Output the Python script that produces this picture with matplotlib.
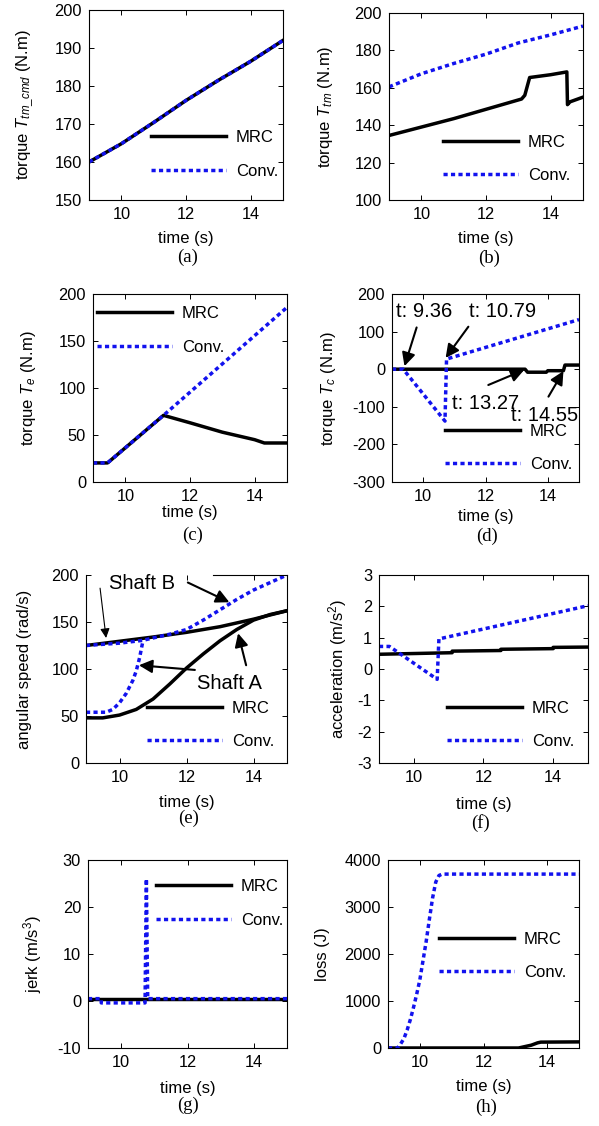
import matplotlib
matplotlib.use("Agg")
import matplotlib.pyplot as plt

W, H = 599, 1126
BLUE = "#1212ee"
DOT = (0, (1.2, 0.95))
LW = 2.5

plt.rcParams.update({
    "font.family": "Liberation Sans",
    "mathtext.fontset": "custom",
    "mathtext.rm": "Liberation Sans",
    "mathtext.it": "Liberation Sans:italic",
    "font.size": 11.5,
    "axes.linewidth": 0.8,
    "axes.unicode_minus": False,
})

# (a) commanded transmission torque
t_a = [9, 10, 11, 12, 13, 14, 15]
a_mrc = [160, 164.8, 170.4, 176.2, 181.5, 186.5, 192]
a_conv = [160, 164.8, 170.4, 176.2, 181.5, 186.5, 192]

# (b) transmission torque
t_b_conv = [9, 10, 11, 12, 13, 14, 15]
b_conv = [160.5, 167.5, 173, 178, 184, 188.3, 193]
t_b_mrc = [9, 10, 11, 12, 13.1, 13.2, 13.35, 14.0, 14.5, 14.52, 14.6, 15]
b_mrc = [134.5, 139, 143.5, 148.5, 154, 156, 165.5, 167, 168.5, 151, 152.5, 155]

# (c) engine torque
t_c_conv = [9, 9.45, 11.18, 15]
c_conv = [20.3, 20.3, 70.9, 185.8]
t_c_mrc = [9, 9.45, 11.18, 12, 13, 14, 14.3, 15]
c_mrc = [20.3, 20.3, 70.9, 63, 53, 45, 41.5, 41.5]

# (d) clutch torque
t_d_conv = [9, 9.36, 10.7, 10.75, 15]
d_conv = [0, 0, -138, 27, 132]
t_d_mrc = [9, 13.27, 13.35, 13.95, 14.0, 14.5, 14.55, 15]
d_mrc = [0, 0, -8, -8, -4, -4, 11, 11]

# (e) angular speeds
t_e_mrc_a = [9, 9.5, 10, 10.5, 11, 11.5, 12, 12.5, 13, 13.5, 14, 14.5, 15]
e_mrc_a = [48, 48, 51, 57, 68, 84, 101, 116, 130, 142, 152, 158, 162]
t_e_mrc_b = [9, 10, 11, 12, 13, 14, 15]
e_mrc_b = [125, 129.5, 134, 139, 145, 153, 162]
t_e_conv_a = [9, 9.6, 9.8, 10.0, 10.2, 10.4, 10.5, 10.6, 10.7]
e_conv_a = [54, 54, 57, 64, 74, 88, 98, 112, 130]
t_e_conv_b = [9, 10, 10.7, 11, 11.5, 12, 12.5, 13, 13.5, 14, 14.5, 15]
e_conv_b = [125, 127.5, 130.5, 133, 137, 142, 152, 163, 174, 184, 192, 200]

# (f) acceleration
t_f_mrc = [9, 11.1, 11.1, 12.5, 12.5, 14.0, 14.0, 15]
f_mrc = [0.47, 0.52, 0.57, 0.59, 0.63, 0.65, 0.69, 0.70]
t_f_conv = [9, 9.3, 10.67, 10.72, 15]
f_conv = [0.72, 0.72, -0.33, 0.96, 2.02]

# (g) jerk
t_g_mrc = [9, 15]
g_mrc = [0.5, 0.5]
t_g_conv = [9, 9.4, 9.4, 10.72, 10.76, 10.8, 15]
g_conv = [0.5, 0.5, -0.4, -0.4, 26, 0.5, 0.5]

# (h) loss
t_h_conv = [9, 9.3, 9.4, 9.5, 9.6, 9.7, 9.8, 9.9, 10.0, 10.1, 10.2, 10.3,
            10.4, 10.5, 10.6, 10.7, 15]
h_conv = [0, 0, 90, 200, 380, 600, 860, 1140, 1450, 1860, 2270, 2740,
          3190, 3530, 3670, 3700, 3700]
t_h_mrc = [9, 13.1, 13.3, 13.5, 13.7, 13.8, 15]
h_mrc = [0, 0, 30, 60, 110, 125, 130]

fig = plt.figure(figsize=(W / 100, H / 100), dpi=100)


def fx(x):
    return x / W


def fy(y):
    return 1 - y / H


def panel(box, ylim, yticks, ylabel, ylab_x, xlab_y, cap, cap_xy):
    l, t, r, b = box
    ax = fig.add_axes([fx(l), fy(b), (r - l) / W, (b - t) / H])
    ax.set_xlim(9, 15)
    ax.set_ylim(*ylim)
    ax.set_xticks([10, 12, 14])
    ax.set_yticks(yticks)
    ax.tick_params(direction="in", top=True, right=True, length=3.5,
                   width=0.7, labelsize=11.8, pad=5)
    ax.set_xlabel("time (s)", va="center", fontsize=12)
    ax.xaxis.set_label_coords(fx((l + r) / 2), fy(xlab_y), transform=fig.transFigure)
    ax.set_ylabel(ylabel, va="center", fontsize=12)
    ax.yaxis.set_label_coords(fx(ylab_x), fy((t + b) / 2), transform=fig.transFigure)
    fig.text(fx(cap_xy[0]), fy(cap_xy[1]), cap, family="Liberation Serif",
             fontsize=13.5, ha="center", va="center")
    return ax


def legend(ax, x, y):
    ax.legend(loc="center left", bbox_to_anchor=(fx(x), fy(y)),
              bbox_transform=fig.transFigure, frameon=False, fontsize=12,
              handlelength=4.5, handletextpad=0.6, labelspacing=1.1,
              borderpad=0, borderaxespad=0)


def arrow(ax, tip, tail, lw=1.5, ms=20):
    ax.annotate("", xy=tip, xytext=tail,
                arrowprops=dict(arrowstyle="-|>", color="k", lw=lw,
                                mutation_scale=ms, shrinkA=0, shrinkB=0))


# (a)
ax = panel((89, 10, 283, 200), (150, 200), range(150, 201, 10),
           r"torque $T_{tm\_cmd}$ (N.m)", 25, 238, "(a)", (188, 257))
ax.plot(t_a, a_mrc, color="k", lw=LW, label="MRC")
ax.plot(t_a, a_conv, color=BLUE, lw=LW, ls=DOT, label="Conv.")
legend(ax, 151, 154.5)

# (b)
ax = panel((389, 13, 583, 200), (100, 200), range(100, 201, 20),
           r"torque $T_{tm}$ (N.m)", 325, 238, "(b)", (489, 258))
ax.plot(t_b_mrc, b_mrc, color="k", lw=LW, label="MRC")
ax.plot(t_b_conv, b_conv, color=BLUE, lw=LW, ls=DOT, label="Conv.")
legend(ax, 443, 159)

# (c)
ax = panel((93, 294, 287, 482), (0, 200), range(0, 201, 50),
           r"torque $T_e$ (N.m)", 29, 513, "(c)", (193, 535))
ax.plot(t_c_mrc, c_mrc, color="k", lw=LW, label="MRC")
ax.plot(t_c_conv, c_conv, color=BLUE, lw=LW, ls=DOT, label="Conv.")
legend(ax, 97, 330.5)

# (d)
ax = panel((392, 294, 579, 482), (-300, 200), range(-300, 201, 100),
           r"torque $T_c$ (N.m)", 329, 517, "(d)", (487, 536))
ax.plot(t_d_mrc, d_mrc, color="k", lw=LW, label="MRC")
ax.plot(t_d_conv, d_conv, color=BLUE, lw=LW, ls=DOT, label="Conv.")
legend(ax, 445, 448)
for txt, pos, tip, tail in [
    ("t: 9.36", (9.13, 153), (9.4, 8), (9.79, 111)),
    ("t: 10.79", (11.46, 153), (10.72, 30), (11.45, 113)),
    ("t: 13.27", (10.93, -91), (13.24, -2), (12.09, -42)),
    ("t: 14.55", (12.82, -124), (14.5, -5), (14.02, -73)),
]:
    ax.text(pos[0], pos[1], txt, fontsize=14.5, ha="left", va="center")
    arrow(ax, tip, tail)

# (e)
ax = panel((86, 575, 287, 763), (0, 200), range(0, 201, 50),
           "angular speed (rad/s)", 25, 803, "(e)", (189, 818))
ax.plot(t_e_mrc_b, e_mrc_b, color="k", lw=LW, label="MRC")
ax.plot(t_e_mrc_a, e_mrc_a, color="k", lw=LW)
ax.plot(t_e_conv_b, e_conv_b, color=BLUE, lw=LW, ls=DOT, label="Conv.")
ax.plot(t_e_conv_a, e_conv_a, color=BLUE, lw=LW, ls=DOT)
ax.spines["top"].set_bounds(12.8, 15)
legend(ax, 147, 725)
ax.text(10.66, 191, "Shaft B", fontsize=14.5, ha="center", va="center")
ax.text(13.28, 85, "Shaft A", fontsize=14.5, ha="center", va="center")
arrow(ax, (9.6, 133), (9.42, 186), lw=0.8, ms=14)
arrow(ax, (13.28, 171), (12.04, 192))
arrow(ax, (10.58, 104), (12.25, 99))
arrow(ax, (13.54, 138), (13.78, 104))

# (f)
ax = panel((379, 575, 588, 763), (-3, 3), range(-3, 4),
           r"acceleration (m/s$^2$)", 338, 805, "(f)", (481, 823))
ax.plot(t_f_mrc, f_mrc, color="k", lw=LW, label="MRC")
ax.plot(t_f_conv, f_conv, color=BLUE, lw=LW, ls=DOT, label="Conv.")
legend(ax, 447, 725)

# (g)
ax = panel((88, 860, 287, 1048), (-10, 30), range(-10, 31, 10),
           r"jerk (m/s$^3$)", 33, 1088, "(g)", (188, 1105))
ax.plot(t_g_mrc, g_mrc, color="k", lw=LW, label="MRC")
ax.plot(t_g_conv, g_conv, color=BLUE, lw=LW, ls=DOT, label="Conv.")
legend(ax, 156, 903.5)

# (h)
ax = panel((388, 860, 579, 1048), (0, 4000), range(0, 4001, 1000),
           "loss (J)", 323, 1087, "(h)", (486, 1107))
ax.plot(t_h_mrc, h_mrc, color="k", lw=LW, label="MRC")
ax.plot(t_h_conv, h_conv, color=BLUE, lw=LW, ls=DOT, label="Conv.")
legend(ax, 439, 956)

fig.savefig("out.png", dpi=100)
